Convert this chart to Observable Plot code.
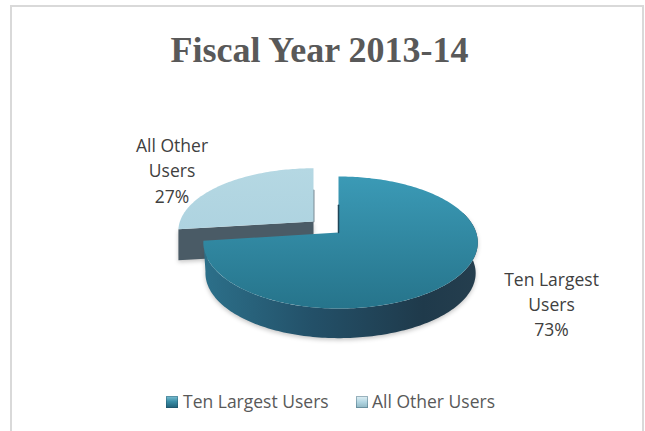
<!DOCTYPE html>
<html>
<head>
<meta charset="utf-8">
<script src="https://cdn.jsdelivr.net/npm/d3@7"></script>
<script src="https://cdn.jsdelivr.net/npm/@observablehq/plot@0.6"></script>
<style>
html,body{margin:0;padding:0;background:#fff;overflow:hidden}
#frame{position:absolute;left:10px;top:5px;width:634px;height:426px;border:2px solid #d9d9d9;border-bottom:none;box-sizing:border-box}
#title{position:absolute;left:-3px;top:30px;width:645px;text-align:center;font:bold 36px "Liberation Serif",serif;color:#595959;line-height:40px}
#chart{position:absolute;left:0;top:80px}
#legend{position:absolute;left:0;top:389px;width:645px;height:24px;font:17.5px "Open Sans",sans-serif;color:#595959}
#legend span{position:absolute;top:0;line-height:24px;white-space:nowrap}
#legend i{position:absolute;top:7px;width:12px;height:12px;box-shadow:inset 0 0 0 1px rgba(30,70,90,.35)}
.wall{filter:drop-shadow(0 2px 2px rgba(0,0,0,.22))}
svg text{font-family:"Open Sans",sans-serif}
</style>
</head>
<body>
<div id="frame"></div>
<div id="title">Fiscal Year 2013-14</div>
<div id="chart"></div>
<div id="legend"></div>
<script>
const categories = ["Ten Largest Users", "All Other Users"];
const shares = [73, 27];
const labelLines = ["Ten Largest\nUsers\n73%", "All Other\nUsers\n27%"];
const topColors = ["url(#topBig)", "url(#topSmall)"];
const legendSwatches = ["linear-gradient(#7fc1d4 0%,#3a8fa8 45%,#1f5f76 100%)", "linear-gradient(#e2f0f5 0%,#b2d6e2 50%,#8fb5c2 100%)"];

// pie geometry, in pie radii
const perspective = 0.1515;
const leftSquash = 0.975;
const rightStretch = 1.005;
const depth = 0.48;
const offsets = [[0, 0], [-25 / 137, 11 / 64.5]];
const verticalSquash = [1, 0.95];
const labelAnchors = [[1.555, -1.10], [-1.215, 0.977]];

function project(theta, slice, r = 1, dz = 0) {
  const X = r * Math.sin(theta), Y = r * Math.cos(theta);
  const w = 1 + perspective * Y;
  const sx = X < 0 ? leftSquash : rightStretch;
  return {
    x: offsets[slice][0] + sx * X / w,
    y: offsets[slice][1] + verticalSquash[slice] * Y / w - dz
  };
}
function arc(a0, a1, slice, r, dz) {
  const n = Math.max(2, Math.ceil(Math.abs(a1 - a0) / 0.02));
  return d3.range(n + 1).map(i => project(a0 + (a1 - a0) * i / n, slice, r, dz));
}
const total = d3.sum(shares);
const bigEnd = 2 * Math.PI * shares[0] / total;
const smallStart = bigEnd, smallEnd = 2 * Math.PI;
const apex = s => project(0, s, 0);
const apexLow = s => project(0, s, 0, depth);

const bigTop = [apex(0), ...arc(0, bigEnd, 0)];
const smallTop = [apex(1), ...arc(smallStart, smallEnd, 1)];
const bigWall = [...arc(1.25, bigEnd, 0), ...arc(bigEnd, 1.25, 0, 0.985, depth)];
const smallWall = [project(smallStart, 1), apex(1), apexLow(1), project(smallStart, 1, 1, depth)];
const bigSliver = [project(0, 0, 0.45), apex(0)];
const smallSliver = [project(0, 1, 0.55), apex(1)];

const labels = categories.map((c, i) => ({text: labelLines[i], x: labelAnchors[i][0], y: labelAnchors[i][1]}));

const defs = () => {
  const ns = "http://www.w3.org/2000/svg";
  const d = document.createElementNS(ns, "defs");
  d.innerHTML = `
  <linearGradient id="topBig" x1="0" y1="0" x2="0" y2="1"><stop offset="0" stop-color="#3b9ab6"/><stop offset="1" stop-color="#26748b"/></linearGradient>
  <linearGradient id="topSmall" x1="0" y1="0" x2="0" y2="1"><stop offset="0" stop-color="#b5d8e3"/><stop offset="1" stop-color="#aed3e0"/></linearGradient>
  <linearGradient id="wallBig" x1="0" y1="0" x2="1" y2="0"><stop offset="0" stop-color="#2c708a"/><stop offset="0.4" stop-color="#235068"/><stop offset="0.8" stop-color="#1f3a4b"/><stop offset="1" stop-color="#253e4e"/></linearGradient>`;
  return d;
};

const fig = Plot.plot({
  width: 645, height: 300,
  margin: 0,
  x: {domain: [-338 / 137, 307 / 137], range: [0, 645], axis: null},
  y: {domain: [152 / 64.5, -148 / 64.5], range: [0, 300], axis: null},
  marks: [
    defs,
    Plot.line(smallWall, {x: "x", y: "y", fill: "#4a5b66", stroke: "none", className: "wall"}),
    Plot.line(smallSliver, {x: "x", y: "y", stroke: "#7b8a93", strokeWidth: 2}),
    Plot.line(smallTop, {x: "x", y: "y", fill: topColors[1], stroke: "none"}),
    Plot.line(bigWall, {x: "x", y: "y", fill: "url(#wallBig)", stroke: "none", className: "wall"}),
    Plot.line(bigTop, {x: "x", y: "y", fill: topColors[0], stroke: "none"}),
    Plot.line(bigSliver, {x: "x", y: "y", stroke: "#1f4658", strokeWidth: 1.5}),
    Plot.text(labels, {x: "x", y: "y", text: "text", fontSize: 17.5, fill: "#404040", lineHeight: 1.43, textAnchor: "middle"})
  ]
});
document.getElementById("chart").append(fig);

const legend = document.getElementById("legend");
const swatchLeft = [166, 356], textLeft = [183, 372];
categories.forEach((c, i) => {
  const sw = document.createElement("i");
  sw.style.left = swatchLeft[i] + "px";
  sw.style.background = legendSwatches[i];
  const t = document.createElement("span");
  t.style.left = textLeft[i] + "px";
  t.textContent = c;
  legend.append(sw, t);
});
</script>
</body>
</html>
